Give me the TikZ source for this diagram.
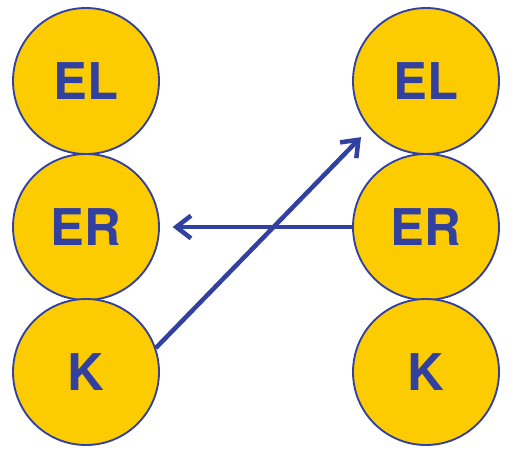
\documentclass[tikz,border=0pt]{standalone}
\usepackage{fontspec}
\setmainfont{TeX Gyre Heros}
\usetikzlibrary{arrows.meta}
\definecolor{ballblue}{HTML}{3240A0}
\definecolor{ballyellow}{HTML}{FDCC00}

\tikzset{
    ball/.style={circle, draw=ballblue, line width=1.4pt, fill=ballyellow, minimum size=109.5pt, inner sep=0pt,
        text=ballblue, font=\fontsize{38}{38}\selectfont\bfseries},
    jump/.style={draw=ballblue, line width=3.4pt, -{Straight Barb[length=11pt,width=17pt,line width=3.4pt]}}
}

\begin{document}
\begin{tikzpicture}[x=0.75pt,y=-0.75pt]
    \useasboundingbox (0,0) rectangle (518,458);
    \node[ball] (ell) at (86,81) {EL};
    \node[ball] (erl) at (86,227) {ER};
    \node[ball] (kl) at (86,372) {K};
    \node[ball] (elr) at (426,81) {EL};
    \node[ball] (err) at (426,227) {ER};
    \node[ball] (kr) at (426,372) {K};
    \draw[jump, shorten >=9pt] (kl.19) -- (elr.220);
    \draw[jump, shorten >=9.5pt] (err.west) -- (erl.east);
\end{tikzpicture}
\end{document}
